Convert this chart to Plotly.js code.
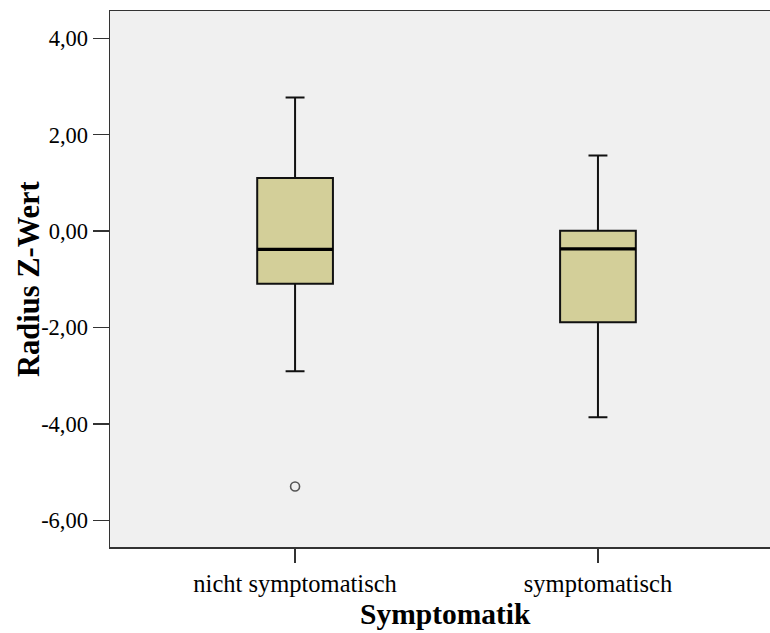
<!DOCTYPE html>
<html>
<head>
<meta charset="utf-8">
<script src="https://cdn.plot.ly/plotly-3.0.1.min.js"></script>
<style>html,body{margin:0;padding:0;background:#fff;}#chart{width:770px;height:633px;}</style>
</head>
<body>
<div id="chart"></div>
<script>
// Data
var categories = ["nicht symptomatisch", "symptomatisch"];
var positions = [0, 1];
var upperWhisker = [2.77, 1.57];
var q3Values = [1.10, 0.01];
var medianValues = [-0.38, -0.37];
var q1Values = [-1.09, -1.89];
var lowerWhisker = [-2.91, -3.86];
var outlierCategoryIndex = [0];
var outlierValues = [-5.30];
var yTickValues = [-6, -4, -2, 0, 2, 4];
var yTickLabels = ["-6,00", "-4,00", "-2,00", "0,00", "2,00", "4,00"];
var xTitle = "Symptomatik";
var yTitle = "Radius Z-Wert";

// Style
var boxWidth = 0.25;
var serif = "Liberation Serif, Times New Roman, serif";

var boxTrace = {
  type: "box",
  x: positions,
  q1: q1Values,
  median: medianValues,
  q3: q3Values,
  lowerfence: lowerWhisker,
  upperfence: upperWhisker,
  width: boxWidth,
  whiskerwidth: 0.25,
  fillcolor: "#d3cf99",
  line: { color: "#111111", width: 2 },
  boxpoints: false,
  hoverinfo: "skip",
  showlegend: false
};

// thicker median line overlay, built from the data
var mx = [], my = [];
for (var i = 0; i < positions.length; i++) {
  mx.push(positions[i] - boxWidth / 2, positions[i] + boxWidth / 2, null);
  my.push(medianValues[i], medianValues[i], null);
}
var medianTrace = {
  type: "scatter", mode: "lines", x: mx, y: my,
  line: { color: "#000000", width: 3.2 },
  hoverinfo: "skip", showlegend: false
};

var outlierTrace = {
  type: "scatter", mode: "markers",
  x: outlierCategoryIndex.map(function (k) { return positions[k]; }),
  y: outlierValues,
  marker: { symbol: "circle-open", size: 9, color: "#555555", line: { width: 1.6, color: "#555555" } },
  hoverinfo: "skip", showlegend: false
};

var layout = {
  width: 770, height: 633,
  margin: { l: 110, r: 0, t: 11, b: 86 },
  paper_bgcolor: "#ffffff",
  plot_bgcolor: "#f0f0f0",
  showlegend: false,
  font: { family: serif, color: "#000000" },
  xaxis: {
    range: [-0.611, 1.568],
    tickmode: "array", tickvals: positions, ticktext: categories,
    ticks: "outside", ticklen: 14, tickwidth: 1.5, tickcolor: "#333333",
    tickfont: { family: serif, size: 24.5, color: "#000000" },
    showline: true, linecolor: "#333333", linewidth: 1.5, mirror: true,
    showgrid: false, zeroline: false, fixedrange: true
  },
  yaxis: {
    range: [-6.554, 4.567],
    tickmode: "array", tickvals: yTickValues, ticktext: yTickLabels,
    ticks: "outside", ticklen: 16, tickwidth: 1.5, tickcolor: "#333333",
    tickfont: { family: serif, size: 22.5, color: "#000000" },
    showline: true, linecolor: "#333333", linewidth: 1.5,
    showgrid: false, zeroline: false, fixedrange: true
  },
  annotations: [
    { text: "<b>" + xTitle + "</b>", xref: "paper", yref: "paper",
      x: 0.509, y: -0.125, xanchor: "center", yanchor: "middle", showarrow: false,
      font: { family: serif, size: 29.5, color: "#000000" } },
    { text: "<b>" + yTitle + "</b>", xref: "paper", yref: "paper", textangle: -90,
      x: -0.1227, y: 0.5, xanchor: "center", yanchor: "middle", showarrow: false,
      font: { family: serif, size: 30.5, color: "#000000" } }
  ]
};

Plotly.newPlot("chart", [boxTrace, medianTrace, outlierTrace], layout, { displayModeBar: false, staticPlot: true });
</script>
</body>
</html>
